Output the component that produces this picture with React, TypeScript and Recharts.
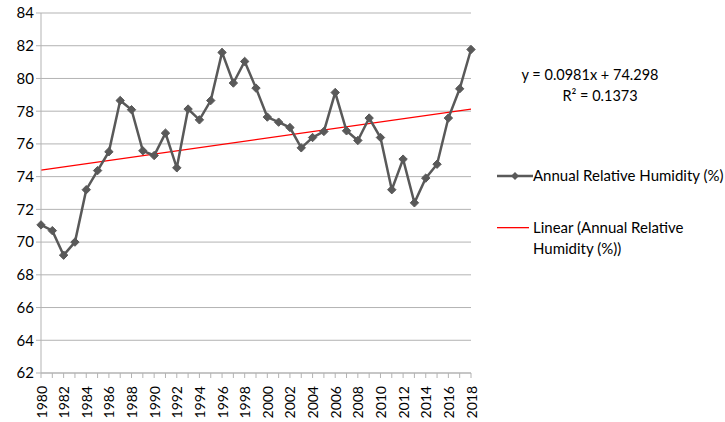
import React from "react";
import { LineChart, Line, XAxis, YAxis, CartesianGrid } from "recharts";

const years = [
  1980, 1981, 1982, 1983, 1984, 1985, 1986, 1987, 1988, 1989,
  1990, 1991, 1992, 1993, 1994, 1995, 1996, 1997, 1998, 1999,
  2000, 2001, 2002, 2003, 2004, 2005, 2006, 2007, 2008, 2009,
  2010, 2011, 2012, 2013, 2014, 2015, 2016, 2017, 2018,
];
const humidity = [
  71.05, 70.7, 69.2, 70.0, 73.2, 74.37, 75.52, 78.65, 78.09, 75.58,
  75.29, 76.66, 74.54, 78.13, 77.47, 78.65, 81.59, 79.72, 81.04, 79.41,
  77.64, 77.33, 77.0, 75.76, 76.39, 76.76, 79.14, 76.8, 76.21, 77.58,
  76.39, 73.2, 75.07, 72.4, 73.91, 74.76, 77.58, 79.37, 81.77,
];
// Trendline endpoints (first and last year)
const trendEnds = [74.4, 78.12];
const yTicks = [62, 64, 66, 68, 70, 72, 74, 76, 78, 80, 82, 84];
const seriesName = "Annual Relative Humidity (%)";
const trendName = "Linear (Annual Relative Humidity (%))";
const equation = "y = 0.0981x + 74.298";
const rSquared = "R² = 0.1373";

const data = years.map((yr, i) => ({
  year: String(yr),
  humidity: humidity[i],
  trend: i === 0 ? trendEnds[0] : i === years.length - 1 ? trendEnds[1] : null,
}));

const FONT = "Lato, 'Open Sans', sans-serif";
const LINE_COLOR = "#595959";
const GRID = "#b3b3b3";

const Diamond = (props: any) => {
  const { cx, cy } = props;
  if (cx == null || cy == null) return null;
  const r = 4.2;
  return (
    <path
      d={`M${cx},${cy - r} L${cx + r},${cy} L${cx},${cy + r} L${cx - r},${cy} Z`}
      fill={LINE_COLOR}
      stroke={LINE_COLOR}
      strokeWidth={1}
    />
  );
};

const XTick = (props: any) => {
  const { x, y, payload, index } = props;
  if (index % 2 !== 0) return null;
  return (
    <text
      x={x}
      y={y}
      transform={`rotate(-90, ${x}, ${y})`}
      textAnchor="end"
      dominantBaseline="central"
      fontSize={14}
      fontFamily={FONT}
      fill="#000"
      dx={-6}
    >
      {payload.value}
    </text>
  );
};

export default function App() {
  return (
    <div style={{ position: "absolute", left: 0, top: 0, width: 725, height: 422, background: "#fff" }}>
      <LineChart
        width={725}
        height={422}
        data={data}
        margin={{ top: 13, right: 254, bottom: 0, left: 0 }}
      >
        <CartesianGrid vertical={false} stroke={GRID} strokeWidth={1} />
        <XAxis
          dataKey="year"
          interval={0}
          height={49}
          tick={<XTick />}
          tickLine={{ stroke: GRID }}
          tickSize={5}
          axisLine={{ stroke: GRID }}
        />
        <YAxis
          domain={[62, 84]}
          ticks={yTicks}
          interval={0}
          width={41}
          tick={{ fontSize: 15, fontFamily: FONT, fill: "#000" }}
          tickLine={{ stroke: GRID }}
          tickSize={5}
          axisLine={{ stroke: GRID }}
        />
        <Line
          dataKey="trend"
          name={trendName}
          stroke="#ff0000"
          strokeWidth={1.2}
          dot={false}
          connectNulls
          isAnimationActive={false}
        />
        <Line
          dataKey="humidity"
          name={seriesName}
          stroke={LINE_COLOR}
          strokeWidth={2.5}
          dot={<Diamond />}
          activeDot={false}
          isAnimationActive={false}
        />
      </LineChart>
      <div
        style={{
          position: "absolute",
          left: 480,
          top: 64,
          width: 220,
          textAlign: "center",
          fontFamily: FONT,
          fontSize: 14.5,
          lineHeight: "21px",
          color: "#000",
        }}
      >
        <div>{equation}</div>
        <div style={{ paddingLeft: 20 }}>{rSquared}</div>
      </div>
      <div
        style={{
          position: "absolute",
          left: 497,
          top: 165,
          width: 228,
          fontFamily: FONT,
          fontSize: 15,
          lineHeight: "21px",
          color: "#000",
        }}
      >
        <div style={{ display: "flex", alignItems: "center", marginBottom: 31 }}>
          <svg width={36} height={12} style={{ marginRight: 0 }}>
            <line x1={0} y1={6} x2={36} y2={6} stroke={LINE_COLOR} strokeWidth={2.5} />
            <path d="M18,2 L22,6 L18,10 L14,6 Z" fill={LINE_COLOR} />
          </svg>
          <span style={{ whiteSpace: "nowrap" }}>{seriesName}</span>
        </div>
        <div style={{ display: "flex", alignItems: "flex-start" }}>
          <svg width={32} height={21} style={{ marginRight: 4, display: "block" }}>
            <rect x={0} y={10} width={32} height={1.3} fill="#ff0000" />
          </svg>
          <span style={{ width: 175 }}>{trendName}</span>
        </div>
      </div>
    </div>
  );
}
